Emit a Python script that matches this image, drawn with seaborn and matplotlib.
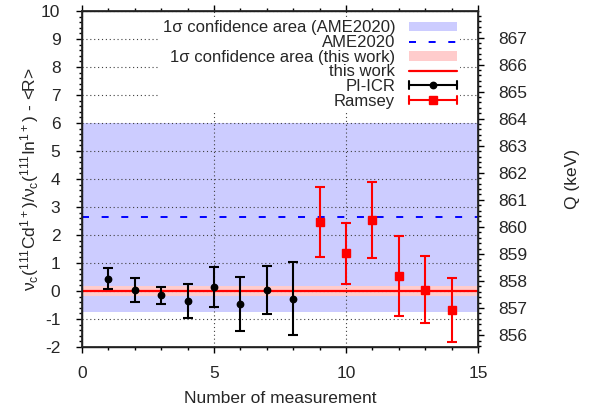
import numpy as np
import matplotlib
matplotlib.use("Agg")
import matplotlib.pyplot as plt
from matplotlib.patches import Patch
from matplotlib.lines import Line2D
from matplotlib.legend_handler import HandlerBase
from matplotlib.ticker import MultipleLocator
import seaborn as sns

# PI-ICR measurements
pi_icr_n = [1, 2, 3, 4, 5, 6, 7, 8]
pi_icr_r = [0.44, 0.03, -0.16, -0.36, 0.14, -0.46, 0.04, -0.27]
pi_icr_err = [0.37, 0.42, 0.31, 0.61, 0.72, 0.97, 0.85, 1.31]

# Ramsey measurements
ramsey_n = [9, 10, 11, 12, 13, 14]
ramsey_r = [2.45, 1.34, 2.53, 0.54, 0.04, -0.67]
ramsey_err = [1.25, 1.09, 1.36, 1.42, 1.20, 1.15]

this_work = 0.0
this_work_sigma = 0.17
ame2020 = 2.63
ame2020_sigma = 3.38

# right axis: Q = q0 + q_per_unit * r
q0 = 857.63
q_per_unit = 1.035


class HorizontalErrHandler(HandlerBase):
    # gnuplot-like key sample: horizontal bar with end caps and marker in the middle
    def __init__(self, color, marker, ms):
        super().__init__()
        self.color = color
        self.marker = marker
        self.ms = ms

    def create_artists(self, legend, orig_handle, xdescent, ydescent, width, height,
                       fontsize, trans):
        y = height / 2 - ydescent
        x0, x1 = -xdescent, width - xdescent
        cap = 3.0
        arts = [
            Line2D([x0, x1], [y, y], color=self.color, lw=1.5),
            Line2D([x0, x0], [y - cap, y + cap], color=self.color, lw=1.5),
            Line2D([x1, x1], [y - cap, y + cap], color=self.color, lw=1.5),
            Line2D([(x0 + x1) / 2], [y], color=self.color, marker=self.marker,
                   ms=self.ms, ls="none"),
        ]
        for a in arts:
            a.set_transform(trans)
        return arts


sns.set_theme(style="ticks")
plt.rcParams["font.family"] = ["Liberation Sans", "DejaVu Sans"]
plt.rcParams["mathtext.default"] = "regular"
plt.rcParams["axes.unicode_minus"] = False

fig = plt.figure(figsize=(5.94, 4.13), dpi=100)
ax = fig.add_axes([82 / 594, 1 - 347 / 413, (478 - 82) / 594, (347 - 11) / 413])

xlim = (0, 15)
ylim = (-2, 10)

ax.axhspan(ame2020 - ame2020_sigma, ame2020 + ame2020_sigma, color="#ccccff", lw=0, zorder=0)
ax.axhspan(this_work - this_work_sigma, this_work + this_work_sigma, color="#ffcccc", lw=0, zorder=0.5)

ax.grid(True, which="major", color="0.25", ls=(0, (1, 2.5)), lw=0.8, zorder=1)
ax.set_axisbelow(True)

ax.axhline(ame2020, color="#0000ff", ls=(0, (3.6, 6.5)), lw=1.4, zorder=2)
ax.axhline(this_work, color="#ff0000", lw=1.6, zorder=2)

ax.errorbar(pi_icr_n, pi_icr_r, yerr=pi_icr_err, fmt="o", color="black", ms=4.6,
            elinewidth=1.5, capsize=3.5, capthick=1.5, zorder=3)
ax.errorbar(ramsey_n, ramsey_r, yerr=ramsey_err, fmt="s", color="#ff0000", ms=5.2,
            elinewidth=1.5, capsize=3.5, capthick=1.5, zorder=3)

ax.set_xlim(*xlim)
ax.set_ylim(*ylim)
ax.xaxis.set_major_locator(MultipleLocator(5))
ax.xaxis.set_minor_locator(MultipleLocator(1))
ax.yaxis.set_major_locator(MultipleLocator(1))
ax.yaxis.set_minor_locator(MultipleLocator(0.2))
ax.tick_params(which="both", direction="out", top=True, right=False, labelsize=12.5,
               color="black", width=1.0)
ax.tick_params(which="major", length=4)
ax.tick_params(which="minor", length=2.2)
ax.tick_params(axis="x", which="major", pad=10)
ax.tick_params(axis="y", which="major", pad=11.5)
for s in ax.spines.values():
    s.set_color("black")
    s.set_linewidth(1.0)

ax.set_xlabel("Number of measurement", fontsize=12.5, labelpad=7)
ax.set_ylabel(r"$\nu_c(^{111}Cd^{1+})/\nu_c(^{111}In^{1+})$ - <R>", fontsize=12.5, labelpad=0)

ax2 = ax.twinx()
ax2.set_ylim(q0 + q_per_unit * ylim[0], q0 + q_per_unit * ylim[1])
ax2.yaxis.set_major_locator(MultipleLocator(1))
ax2.yaxis.set_minor_locator(MultipleLocator(0.2))
ax2.tick_params(which="both", direction="out", labelsize=12.5, color="black", width=1.0)
ax2.tick_params(which="major", length=4, pad=10.5)
ax2.tick_params(which="minor", length=2.2)
ax2.set_ylabel("Q (keV)", fontsize=12.5, labelpad=27)
ax2.grid(False)

pi_proxy = Line2D([], [], color="black")
ramsey_proxy = Line2D([], [], color="#ff0000")
handles = [
    Patch(facecolor="#ccccff", edgecolor="none"),
    Line2D([], [], color="#0000ff", ls=(0, (3.6, 6.5)), lw=1.4),
    Patch(facecolor="#ffcccc", edgecolor="none"),
    Line2D([], [], color="#ff0000", lw=1.6),
    pi_proxy,
    ramsey_proxy,
]
labels = ["1σ confidence area (AME2020)", "AME2020", "1σ confidence area (this work)",
          "this work", "PI-ICR", "Ramsey"]
leg = ax2.legend(handles, labels, loc="upper right", bbox_to_anchor=(0.955, 0.982),
                 markerfirst=False, frameon=True, fancybox=False, framealpha=1,
                 edgecolor="none", facecolor="white", fontsize=12, handlelength=2.9,
                 handleheight=0.5, labelspacing=-0.02, handletextpad=0.8,
                 borderpad=0.2, borderaxespad=0,
                 handler_map={pi_proxy: HorizontalErrHandler("black", "o", 4.6),
                              ramsey_proxy: HorizontalErrHandler("#ff0000", "s", 5.2)})
leg.set_zorder(5)

fig.savefig("out.png", dpi=100)
